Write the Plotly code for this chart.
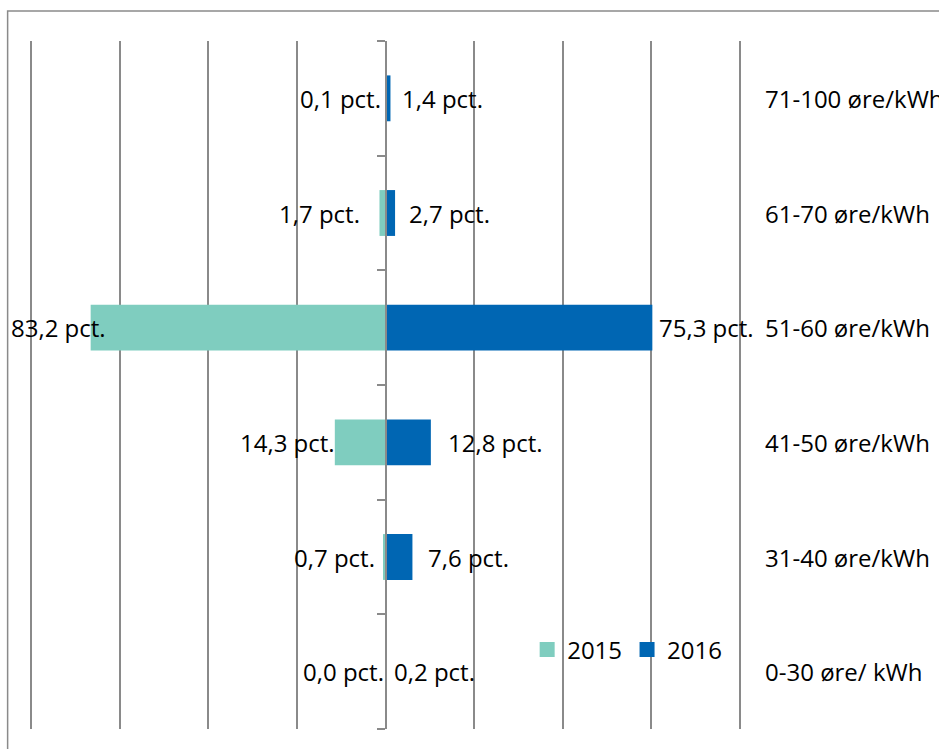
import plotly.graph_objects as go

categories = ["0-30 øre/ kWh", "31-40 øre/kWh", "41-50 øre/kWh",
              "51-60 øre/kWh", "61-70 øre/kWh", "71-100 øre/kWh"]
share_2015 = [0.0, 0.7, 14.3, 83.2, 1.7, 0.1]
share_2016 = [0.2, 7.6, 12.8, 75.3, 2.7, 1.4]
series_names = ["2015", "2016"]
x_ticks = [-100, -75, -50, -25, 0, 25, 50, 75, 100]

# style: pixel nudges of the value labels (as placed in the original)
nudge_2015 = [0, -6, 2, 17, -17, -2]
nudge_2016 = [6, 14, 15, 5, 12, 10]

C2015 = "#7fcdbf"
C2016 = "#0066b3"
GRID = "#8a8a8a"
FONT = "Open Sans, Calibri, Carlito, sans-serif"
FS = 24

W, H = 939, 749
XR = 100.6
span100 = 739.7 - 31
pw = span100 * XR / 100
ML = 385.35 - pw / 2
MR = W - ML - pw
MT, MB = 41, 20
ph = H - MT - MB

def fmt(v):
    return f"{v:.1f}".replace(".", ",") + " pct."

fig = go.Figure()
fig.add_trace(go.Bar(y=categories, x=[-v for v in share_2015], orientation="h",
                     name=series_names[0], marker=dict(color=C2015, line=dict(width=0)),
                     width=0.4, showlegend=False))
fig.add_trace(go.Bar(y=categories, x=share_2016, orientation="h",
                     name=series_names[1], marker=dict(color=C2016, line=dict(width=0)),
                     width=0.4, showlegend=False))
fig.add_trace(go.Scatter(x=[None], y=[None], mode="markers", name=series_names[0],
                         marker=dict(symbol="square", size=15, color=C2015)))
fig.add_trace(go.Scatter(x=[None], y=[None], mode="markers", name=series_names[1],
                         marker=dict(symbol="square", size=15, color=C2016)))

ann = []
for c, v, n in zip(categories, share_2015, nudge_2015):
    ann.append(dict(x=-v, y=c, xref="x", yref="y", text=fmt(v), showarrow=False,
                    xanchor="right", xshift=n, font=dict(family=FONT, size=FS, color="#000")))
for c, v, n in zip(categories, share_2016, nudge_2016):
    ann.append(dict(x=v, y=c, xref="x", yref="y", text=fmt(v), showarrow=False,
                    xanchor="left", xshift=n, font=dict(family=FONT, size=FS, color="#000")))
for c in categories:
    ann.append(dict(x=1, y=c, xref="paper", yref="y", text=c, showarrow=False,
                    xanchor="left", xshift=765 - (ML + pw) - 2,
                    font=dict(family=FONT, size=FS, color="#000")))

frame = dict(type="rect", xref="paper", yref="paper",
             x0=(7.5 - ML) / pw, x1=(W + 10 - ML) / pw,
             y0=-(MB + 10) / ph, y1=1 + (MT - 11) / ph,
             line=dict(color=GRID, width=1.5), fillcolor="rgba(0,0,0,0)", layer="below")

fig.update_layout(
    width=W, height=H,
    margin=dict(l=ML, r=MR, t=MT, b=MB, pad=0),
    paper_bgcolor="white", plot_bgcolor="white",
    barmode="relative",
    font=dict(family=FONT, size=FS, color="#000"),
    xaxis=dict(range=[-XR, XR], tickvals=x_ticks, showticklabels=False,
               showgrid=True, gridcolor=GRID, gridwidth=1.5, zeroline=False,
               showline=False, ticks="", fixedrange=True),
    yaxis=dict(type="category", categoryorder="array", categoryarray=categories,
               anchor="free", position=0.5, showline=True, linecolor=GRID, linewidth=1.5,
               ticks="outside", ticklen=8, tickcolor=GRID, tickwidth=1.5,
               tickson="boundaries", showticklabels=False, showgrid=False,
               range=[-0.5, 5.5], fixedrange=True),
    showlegend=True,
    legend=dict(orientation="h", x=(527 - ML) / pw, y=(H - MB - 650) / ph,
                xanchor="left", yanchor="middle", bgcolor="rgba(0,0,0,0)",
                font=dict(family=FONT, size=FS), itemwidth=30, tracegroupgap=0),
    annotations=ann,
    shapes=[frame],
)
fig.write_html("out.html", config={"displayModeBar": False},
               post_script="document.body.style.margin='0';document.body.style.overflow='hidden';")
